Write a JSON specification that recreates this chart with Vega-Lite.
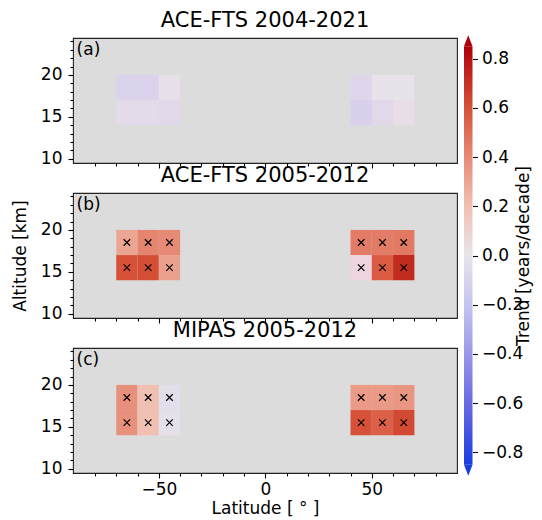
{
  "$schema": "https://vega.github.io/schema/vega-lite/v6.json",
  "autosize": {"type": "pad"},
  "padding": {"left": 10, "top": 8, "right": 4, "bottom": 2},
  "background": "#ffffff",
  "config": {
    "font": "DejaVu Sans",
    "view": {"fill": "#dcdcdc", "stroke": "#222222", "strokeWidth": 1.1},
    "axis": {
      "labelFont": "DejaVu Sans", "labelFontSize": 17, "labelColor": "#000000",
      "tickColor": "#000000", "tickWidth": 1.1, "domain": false, "grid": false,
      "titleFont": "DejaVu Sans", "titleFontSize": 17, "titleFontWeight": "normal", "titleColor": "#000000",
      "labelFlush": false
    },
    "title": {"font": "DejaVu Sans", "fontSize": 21, "fontWeight": "normal", "color": "#000000", "anchor": "middle", "frame": "group", "baseline": "alphabetic", "offset": 7.5}
  },
  "datasets": {
    "cells": [
      {"panel": "a", "lat": -65, "lat_lo": -70, "lat_hi": -60, "alt": 18.5, "alt_lo": 17, "alt_hi": 20, "trend": -0.10, "sig": false},
      {"panel": "a", "lat": -55, "lat_lo": -60, "lat_hi": -50, "alt": 18.5, "alt_lo": 17, "alt_hi": 20, "trend": -0.10, "sig": false},
      {"panel": "a", "lat": -45, "lat_lo": -50, "lat_hi": -40, "alt": 18.5, "alt_lo": 17, "alt_hi": 20, "trend": 0.02, "sig": false},
      {"panel": "a", "lat": -65, "lat_lo": -70, "lat_hi": -60, "alt": 15.5, "alt_lo": 14, "alt_hi": 17, "trend": -0.05, "sig": false},
      {"panel": "a", "lat": -55, "lat_lo": -60, "lat_hi": -50, "alt": 15.5, "alt_lo": 14, "alt_hi": 17, "trend": -0.05, "sig": false},
      {"panel": "a", "lat": -45, "lat_lo": -50, "lat_hi": -40, "alt": 15.5, "alt_lo": 14, "alt_hi": 17, "trend": -0.06, "sig": false},
      {"panel": "a", "lat": 45, "lat_lo": 40, "lat_hi": 50, "alt": 18.5, "alt_lo": 17, "alt_hi": 20, "trend": -0.08, "sig": false},
      {"panel": "a", "lat": 55, "lat_lo": 50, "lat_hi": 60, "alt": 18.5, "alt_lo": 17, "alt_hi": 20, "trend": 0.01, "sig": false},
      {"panel": "a", "lat": 65, "lat_lo": 60, "lat_hi": 70, "alt": 18.5, "alt_lo": 17, "alt_hi": 20, "trend": 0.01, "sig": false},
      {"panel": "a", "lat": 45, "lat_lo": 40, "lat_hi": 50, "alt": 15.5, "alt_lo": 14, "alt_hi": 17, "trend": -0.12, "sig": false},
      {"panel": "a", "lat": 55, "lat_lo": 50, "lat_hi": 60, "alt": 15.5, "alt_lo": 14, "alt_hi": 17, "trend": -0.06, "sig": false},
      {"panel": "a", "lat": 65, "lat_lo": 60, "lat_hi": 70, "alt": 15.5, "alt_lo": 14, "alt_hi": 17, "trend": 0.03, "sig": false},
      {"panel": "b", "lat": -65, "lat_lo": -70, "lat_hi": -60, "alt": 18.5, "alt_lo": 17, "alt_hi": 20, "trend": 0.30, "sig": true},
      {"panel": "b", "lat": -55, "lat_lo": -60, "lat_hi": -50, "alt": 18.5, "alt_lo": 17, "alt_hi": 20, "trend": 0.42, "sig": true},
      {"panel": "b", "lat": -45, "lat_lo": -50, "lat_hi": -40, "alt": 18.5, "alt_lo": 17, "alt_hi": 20, "trend": 0.40, "sig": true},
      {"panel": "b", "lat": -65, "lat_lo": -70, "lat_hi": -60, "alt": 15.5, "alt_lo": 14, "alt_hi": 17, "trend": 0.60, "sig": true},
      {"panel": "b", "lat": -55, "lat_lo": -60, "lat_hi": -50, "alt": 15.5, "alt_lo": 14, "alt_hi": 17, "trend": 0.62, "sig": true},
      {"panel": "b", "lat": -45, "lat_lo": -50, "lat_hi": -40, "alt": 15.5, "alt_lo": 14, "alt_hi": 17, "trend": 0.32, "sig": true},
      {"panel": "b", "lat": 45, "lat_lo": 40, "lat_hi": 50, "alt": 18.5, "alt_lo": 17, "alt_hi": 20, "trend": 0.45, "sig": true},
      {"panel": "b", "lat": 55, "lat_lo": 50, "lat_hi": 60, "alt": 18.5, "alt_lo": 17, "alt_hi": 20, "trend": 0.45, "sig": true},
      {"panel": "b", "lat": 65, "lat_lo": 60, "lat_hi": 70, "alt": 18.5, "alt_lo": 17, "alt_hi": 20, "trend": 0.46, "sig": true},
      {"panel": "b", "lat": 45, "lat_lo": 40, "lat_hi": 50, "alt": 15.5, "alt_lo": 14, "alt_hi": 17, "trend": 0.08, "sig": true},
      {"panel": "b", "lat": 55, "lat_lo": 50, "lat_hi": 60, "alt": 15.5, "alt_lo": 14, "alt_hi": 17, "trend": 0.57, "sig": true},
      {"panel": "b", "lat": 65, "lat_lo": 60, "lat_hi": 70, "alt": 15.5, "alt_lo": 14, "alt_hi": 17, "trend": 0.75, "sig": true},
      {"panel": "c", "lat": -65, "lat_lo": -70, "lat_hi": -60, "alt": 18.5, "alt_lo": 17, "alt_hi": 20, "trend": 0.38, "sig": true},
      {"panel": "c", "lat": -55, "lat_lo": -60, "lat_hi": -50, "alt": 18.5, "alt_lo": 17, "alt_hi": 20, "trend": 0.20, "sig": true},
      {"panel": "c", "lat": -45, "lat_lo": -50, "lat_hi": -40, "alt": 18.5, "alt_lo": 17, "alt_hi": 20, "trend": -0.04, "sig": true},
      {"panel": "c", "lat": -65, "lat_lo": -70, "lat_hi": -60, "alt": 15.5, "alt_lo": 14, "alt_hi": 17, "trend": 0.38, "sig": true},
      {"panel": "c", "lat": -55, "lat_lo": -60, "lat_hi": -50, "alt": 15.5, "alt_lo": 14, "alt_hi": 17, "trend": 0.20, "sig": true},
      {"panel": "c", "lat": -45, "lat_lo": -50, "lat_hi": -40, "alt": 15.5, "alt_lo": 14, "alt_hi": 17, "trend": -0.02, "sig": true},
      {"panel": "c", "lat": 45, "lat_lo": 40, "lat_hi": 50, "alt": 18.5, "alt_lo": 17, "alt_hi": 20, "trend": 0.34, "sig": true},
      {"panel": "c", "lat": 55, "lat_lo": 50, "lat_hi": 60, "alt": 18.5, "alt_lo": 17, "alt_hi": 20, "trend": 0.34, "sig": true},
      {"panel": "c", "lat": 65, "lat_lo": 60, "lat_hi": 70, "alt": 18.5, "alt_lo": 17, "alt_hi": 20, "trend": 0.36, "sig": true},
      {"panel": "c", "lat": 45, "lat_lo": 40, "lat_hi": 50, "alt": 15.5, "alt_lo": 14, "alt_hi": 17, "trend": 0.60, "sig": true},
      {"panel": "c", "lat": 55, "lat_lo": 50, "lat_hi": 60, "alt": 15.5, "alt_lo": 14, "alt_hi": 17, "trend": 0.55, "sig": true},
      {"panel": "c", "lat": 65, "lat_lo": 60, "lat_hi": 70, "alt": 15.5, "alt_lo": 14, "alt_hi": 17, "trend": 0.63, "sig": true}
    ],
    "panels": [
      {"panel": "a", "label": "(a)"},
      {"panel": "b", "label": "(b)"},
      {"panel": "c", "label": "(c)"}
    ],
    "colorbar": [{"lo": -0.85, "hi": 0.85}],
    "extends": [{"end": "over", "v": 0.85}, {"end": "under", "v": -0.85}]
  },
  "spacing": 6,
  "bounds": "full",
  "hconcat": [
    {
      "spacing": 30,
      "bounds": "flush",
      "vconcat": [
        {
          "title": {"text": "ACE-FTS 2004-2021"},
          "width": 384, "height": 125,
          "resolve": {"axis": {"x": "independent", "y": "independent"}},
          "layer": [
            {
              "data": {"name": "cells"},
              "transform": [{"filter": "datum.panel === 'a'"}],
              "mark": {"type": "rect", "strokeWidth": 0},
              "encoding": {
                "x": {"field": "lat_lo", "type": "quantitative", "scale": {"domain": [-90.3, 90], "nice": false, "zero": false},
                      "axis": {"orient": "bottom", "values": [-50, 0, 50], "labels": false, "title": null, "tickSize": 5}},
                "x2": {"field": "lat_hi"},
                "y": {"field": "alt_lo", "type": "quantitative", "scale": {"domain": [9.5, 24.4], "nice": false, "zero": false},
                      "axis": {"orient": "left", "values": [10, 15, 20], "title": null, "tickSize": 5, "labelPadding": 6, "labelOverlap": false}},
                "y2": {"field": "alt_hi"},
                "color": {"field": "trend", "type": "quantitative", "legend": null,
                          "scale": {"domain": [-0.85, -0.6, -0.4, -0.2, 0, 0.2, 0.4, 0.6, 0.85],
                                    "range": ["#1a3de0", "#6a6ae2", "#9a98e8", "#c6c4ef", "#e8e4ea", "#f0c0b2", "#e68a76", "#d75139", "#b0000c"]}}
              }
            },
            {
              "data": {"name": "cells"},
              "transform": [{"filter": "datum.panel === 'a' && datum.sig"}],
              "mark": {"type": "point", "shape": "M-1,-1L1,1M-1,1L1,-1", "filled": false, "stroke": "#000000", "strokeWidth": 1.2, "size": 42, "opacity": 1},
              "encoding": {
                "x": {"field": "lat", "type": "quantitative", "axis": null},
                "y": {"field": "alt", "type": "quantitative", "axis": null}
              }
            },
            {
              "data": {"name": "panels"},
              "transform": [{"filter": "datum.panel === 'a'"}],
              "mark": {"type": "text", "align": "left", "baseline": "middle", "fontSize": 17, "color": "#000000"},
              "encoding": {
                "x": {"datum": -88.6, "type": "quantitative",
                      "axis": {"orient": "bottom", "values": [-80, -70, -60, -40, -30, -20, -10, 10, 20, 30, 40, 60, 70, 80], "labels": false, "title": null, "tickSize": 3}},
                "y": {"datum": 23.0, "type": "quantitative",
                      "axis": {"orient": "left", "values": [11, 12, 13, 14, 16, 17, 18, 19, 21, 22, 23, 24], "labels": false, "title": null, "tickSize": 3}},
                "text": {"field": "label"}
              }
            }
          ]
        },
        {
          "title": {"text": "ACE-FTS 2005-2012"},
          "width": 384, "height": 125,
          "resolve": {"axis": {"x": "independent", "y": "independent"}},
          "layer": [
            {
              "data": {"name": "cells"},
              "transform": [{"filter": "datum.panel === 'b'"}],
              "mark": {"type": "rect", "strokeWidth": 0},
              "encoding": {
                "x": {"field": "lat_lo", "type": "quantitative", "scale": {"domain": [-90.3, 90], "nice": false, "zero": false},
                      "axis": {"orient": "bottom", "values": [-50, 0, 50], "labels": false, "title": null, "tickSize": 5}},
                "x2": {"field": "lat_hi"},
                "y": {"field": "alt_lo", "type": "quantitative", "scale": {"domain": [9.5, 24.4], "nice": false, "zero": false},
                      "axis": {"orient": "left", "values": [10, 15, 20], "title": "Altitude [km]", "titlePadding": 11, "tickSize": 5, "labelPadding": 6, "labelOverlap": false}},
                "y2": {"field": "alt_hi"},
                "color": {"field": "trend", "type": "quantitative", "legend": null,
                          "scale": {"domain": [-0.85, -0.6, -0.4, -0.2, 0, 0.2, 0.4, 0.6, 0.85],
                                    "range": ["#1a3de0", "#6a6ae2", "#9a98e8", "#c6c4ef", "#e8e4ea", "#f0c0b2", "#e68a76", "#d75139", "#b0000c"]}}
              }
            },
            {
              "data": {"name": "cells"},
              "transform": [{"filter": "datum.panel === 'b' && datum.sig"}],
              "mark": {"type": "point", "shape": "M-1,-1L1,1M-1,1L1,-1", "filled": false, "stroke": "#000000", "strokeWidth": 1.2, "size": 42, "opacity": 1},
              "encoding": {
                "x": {"field": "lat", "type": "quantitative", "axis": null},
                "y": {"field": "alt", "type": "quantitative", "axis": null}
              }
            },
            {
              "data": {"name": "panels"},
              "transform": [{"filter": "datum.panel === 'b'"}],
              "mark": {"type": "text", "align": "left", "baseline": "middle", "fontSize": 17, "color": "#000000"},
              "encoding": {
                "x": {"datum": -88.6, "type": "quantitative",
                      "axis": {"orient": "bottom", "values": [-80, -70, -60, -40, -30, -20, -10, 10, 20, 30, 40, 60, 70, 80], "labels": false, "title": null, "tickSize": 3}},
                "y": {"datum": 23.0, "type": "quantitative",
                      "axis": {"orient": "left", "values": [11, 12, 13, 14, 16, 17, 18, 19, 21, 22, 23, 24], "labels": false, "title": null, "tickSize": 3}},
                "text": {"field": "label"}
              }
            }
          ]
        },
        {
          "title": {"text": "MIPAS 2005-2012"},
          "width": 384, "height": 125,
          "resolve": {"axis": {"x": "independent", "y": "independent"}},
          "layer": [
            {
              "data": {"name": "cells"},
              "transform": [{"filter": "datum.panel === 'c'"}],
              "mark": {"type": "rect", "strokeWidth": 0},
              "encoding": {
                "x": {"field": "lat_lo", "type": "quantitative", "scale": {"domain": [-90.3, 90], "nice": false, "zero": false},
                      "axis": {"orient": "bottom", "values": [-50, 0, 50], "title": "Latitude [ ° ]", "titlePadding": 3, "tickSize": 5, "labelPadding": 3, "labelOverlap": false}},
                "x2": {"field": "lat_hi"},
                "y": {"field": "alt_lo", "type": "quantitative", "scale": {"domain": [9.5, 24.4], "nice": false, "zero": false},
                      "axis": {"orient": "left", "values": [10, 15, 20], "title": null, "tickSize": 5, "labelPadding": 6, "labelOverlap": false}},
                "y2": {"field": "alt_hi"},
                "color": {"field": "trend", "type": "quantitative", "legend": null,
                          "scale": {"domain": [-0.85, -0.6, -0.4, -0.2, 0, 0.2, 0.4, 0.6, 0.85],
                                    "range": ["#1a3de0", "#6a6ae2", "#9a98e8", "#c6c4ef", "#e8e4ea", "#f0c0b2", "#e68a76", "#d75139", "#b0000c"]}}
              }
            },
            {
              "data": {"name": "cells"},
              "transform": [{"filter": "datum.panel === 'c' && datum.sig"}],
              "mark": {"type": "point", "shape": "M-1,-1L1,1M-1,1L1,-1", "filled": false, "stroke": "#000000", "strokeWidth": 1.2, "size": 42, "opacity": 1},
              "encoding": {
                "x": {"field": "lat", "type": "quantitative", "axis": null},
                "y": {"field": "alt", "type": "quantitative", "axis": null}
              }
            },
            {
              "data": {"name": "panels"},
              "transform": [{"filter": "datum.panel === 'c'"}],
              "mark": {"type": "text", "align": "left", "baseline": "middle", "fontSize": 17, "color": "#000000"},
              "encoding": {
                "x": {"datum": -88.6, "type": "quantitative",
                      "axis": {"orient": "bottom", "values": [-80, -70, -60, -40, -30, -20, -10, 10, 20, 30, 40, 60, 70, 80], "labels": false, "title": null, "tickSize": 3}},
                "y": {"datum": 23.0, "type": "quantitative",
                      "axis": {"orient": "left", "values": [11, 12, 13, 14, 16, 17, 18, 19, 21, 22, 23, 24], "labels": false, "title": null, "tickSize": 3}},
                "text": {"field": "label"}
              }
            }
          ]
        }
      ]
    },
    {
      "width": 8.5, "height": 435,
      "view": {"stroke": null, "fill": null},
      "layer": [
        {
          "data": {"name": "colorbar"},
          "mark": {"type": "rect", "strokeWidth": 0,
                   "color": {"gradient": "linear", "x1": 0, "y1": 1, "x2": 0, "y2": 0,
                             "stops": [
                               {"offset": 0, "color": "#1a3de0"},
                               {"offset": 0.147, "color": "#6a6ae2"},
                               {"offset": 0.265, "color": "#9a98e8"},
                               {"offset": 0.382, "color": "#c6c4ef"},
                               {"offset": 0.5, "color": "#e8e4ea"},
                               {"offset": 0.618, "color": "#f0c0b2"},
                               {"offset": 0.735, "color": "#e68a76"},
                               {"offset": 0.853, "color": "#d75139"},
                               {"offset": 1, "color": "#b0000c"}
                             ]}},
          "encoding": {
            "y": {"field": "lo", "type": "quantitative", "scale": {"domain": [-0.884, 0.884], "nice": false, "zero": false},
                  "axis": {"orient": "right", "values": [-0.8, -0.6, -0.4, -0.2, 0, 0.2, 0.4, 0.6, 0.8], "format": ".1f",
                           "tickSize": 5, "labelPadding": 4, "labelOverlap": false,
                           "title": "Trend [years/decade]", "titleAngle": 270, "titlePadding": 10}},
            "y2": {"field": "hi"}
          }
        },
        {
          "data": {"name": "extends"},
          "transform": [{"filter": "datum.end === 'over'"}],
          "mark": {"type": "point", "shape": "M-1,0L1,0L0,-2.6Z", "filled": true, "fill": "#b0000c", "strokeWidth": 0, "size": 72, "opacity": 1},
          "encoding": {
            "y": {"field": "v", "type": "quantitative"}
          }
        },
        {
          "data": {"name": "extends"},
          "transform": [{"filter": "datum.end === 'under'"}],
          "mark": {"type": "point", "shape": "M-1,0L1,0L0,2.6Z", "filled": true, "fill": "#1a3de0", "strokeWidth": 0, "size": 72, "opacity": 1},
          "encoding": {
            "y": {"field": "v", "type": "quantitative"}
          }
        }
      ]
    }
  ]
}
